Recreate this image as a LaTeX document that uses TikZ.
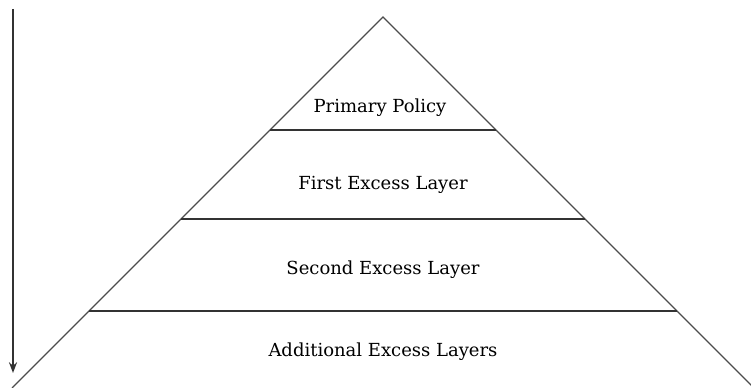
\documentclass[tikz,border=0pt]{standalone}
\usepackage{fontspec}
\setmainfont{DejaVu Serif}
\usetikzlibrary{arrows.meta}

\begin{document}
\begin{tikzpicture}[x=0.75pt, y=-0.75pt, font=\fontsize{13.5}{16}\selectfont]
\tikzstyle{side} = [draw=black!70, line width=0.9pt]
\tikzstyle{layer} = [draw=black!80, line width=1.4pt]
\tikzstyle{label} = [text centered, inner sep=0pt]
\tikzstyle{arrow} = [draw=black!80, line width=1.4pt, -{Stealth[length=8pt, width=6pt]}]

\useasboundingbox (0,0) rectangle (751,388);

\coordinate (apex) at (383,17);
\coordinate (baseL) at (12,388);
\coordinate (baseR) at (754,388);

\coordinate (l1) at (270,130);
\coordinate (r1) at (496,130);
\coordinate (l2) at (181,219);
\coordinate (r2) at (585,219);
\coordinate (l3) at (89,311);
\coordinate (r3) at (677,311);

\coordinate (top) at (13,9);
\coordinate (bottom) at (13,373);

\draw [side] (baseL) -- (apex) -- (baseR);
\draw [layer] (l1) -- (r1);
\draw [layer] (l2) -- (r2);
\draw [layer] (l3) -- (r3);

\node (primary)    [label] at (380,108) {Primary Policy};
\node (first)      [label] at (383,185) {First Excess Layer};
\node (second)     [label] at (383,270) {Second Excess Layer};
\node (additional) [label] at (383,352) {Additional Excess Layers};

\draw [arrow] (top) -- (bottom);

\end{tikzpicture}
\end{document}
